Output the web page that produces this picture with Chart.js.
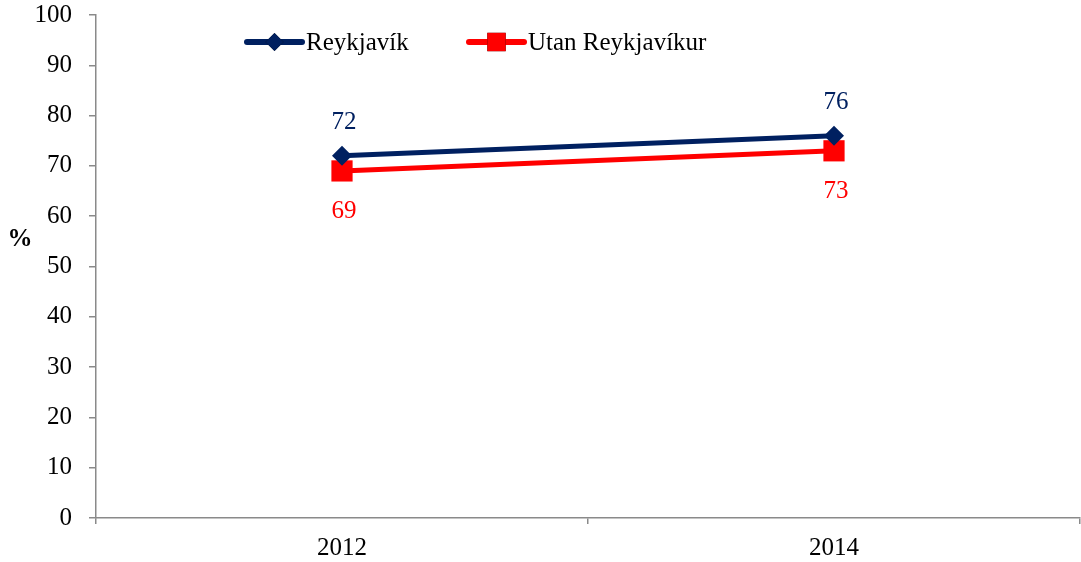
<!DOCTYPE html>
<html>
<head>
<meta charset="utf-8">
<script src="https://cdn.jsdelivr.net/npm/chart.js@4/dist/chart.umd.min.js"></script>
<style>
  html, body { margin: 0; padding: 0; background: #fff; }
  #wrap { width: 1081px; height: 562px; }
</style>
</head>
<body>
<div id="wrap"><canvas id="chart" width="1081" height="562"></canvas></div>
<script>
const years = ['2012', '2014'];
const reykjavik = [72, 76];
const utanReykjavik = [69, 73];
const seriesNames = ['Reykjavík', 'Utan Reykjavíkur'];

const NAVY = '#002060';
const RED = '#ff0000';
const AXIS = '#8a8a8a';
const FONT = '"Liberation Serif", "Times New Roman", serif';
const FS = 25;

// value labels above the navy line, below the red one
const valueLabels = {
    id: 'valueLabels',
    afterDatasetsDraw(chart) {
        const ctx = chart.ctx;
        ctx.save();
        ctx.font = FS + 'px ' + FONT;
        ctx.textAlign = 'center';
        ctx.textBaseline = 'middle';
        chart.data.datasets.forEach((ds, i) => {
            const meta = chart.getDatasetMeta(i);
            meta.data.forEach((pt, j) => {
                ctx.fillStyle = ds.borderColor;
                const dy = i === 0 ? -33 : 41;
                ctx.fillText(String(ds.data[j]), pt.x + 2, pt.y + dy);
            });
        });
        ctx.restore();
    }
};

// line + marker legend, and the unrotated % axis label
const lineLegend = {
    id: 'lineLegend',
    afterDraw(chart) {
        const ctx = chart.ctx;
        ctx.save();
        const starts = [247, 469];
        const y = 42;
        chart.data.datasets.forEach((ds, i) => {
            const x0 = starts[i];
            ctx.strokeStyle = ds.borderColor;
            ctx.lineWidth = 6;
            ctx.lineCap = 'round';
            ctx.beginPath();
            ctx.moveTo(x0, y);
            ctx.lineTo(x0 + 55, y);
            ctx.stroke();
            Chart.helpers.drawPoint(ctx, {
                pointStyle: ds.pointStyle,
                radius: i === 0 ? 9 : 13,
                borderWidth: 0
            }, x0 + 27.5, y);
            ctx.fillStyle = ds.borderColor;
            ctx.fill();
            ctx.fillStyle = '#000';
            ctx.font = FS + 'px ' + FONT;
            ctx.textAlign = 'left';
            ctx.textBaseline = 'middle';
            ctx.fillText(ds.label, x0 + 59, y + 1);
        });
        ctx.font = 'bold ' + FS + 'px ' + FONT;
        ctx.textAlign = 'center';
        ctx.fillText('%', 20, 240);
        ctx.restore();
    }
};

new Chart(document.getElementById('chart'), {
    type: 'line',
    data: {
        labels: years,
        datasets: [{
            label: seriesNames[0],
            data: reykjavik,
            borderColor: NAVY,
            backgroundColor: NAVY,
            borderWidth: 5,
            pointStyle: 'rectRot',
            pointRadius: 10,
            pointBorderWidth: 0
        }, {
            label: seriesNames[1],
            data: utanReykjavik,
            borderColor: RED,
            backgroundColor: RED,
            borderWidth: 5,
            pointStyle: 'rect',
            pointRadius: 15,
            pointBorderWidth: 0
        }]
    },
    options: {
        responsive: false,
        animation: false,
        layout: {
            autoPadding: false,
            padding: { top: 15, right: 1, left: 0, bottom: 0 }
        },
        plugins: {
            legend: { display: false },
            tooltip: { enabled: false }
        },
        scales: {
            x: {
                offset: true,
                grid: {
                    offset: true,
                    drawOnChartArea: false,
                    tickLength: 6,
                    color: AXIS,
                    lineWidth: 1.5
                },
                border: { color: AXIS, width: 1.5 },
                ticks: {
                    padding: 9,
                    color: '#000',
                    font: { family: FONT, size: FS }
                },
                afterFit(axis) {
                    axis.height = 44;
                    axis.paddingLeft = 0;
                    axis.paddingRight = 0;
                }
            },
            y: {
                min: 0,
                max: 100,
                grid: {
                    drawOnChartArea: false,
                    tickLength: 7,
                    color: AXIS,
                    lineWidth: 1.5
                },
                border: { color: AXIS, width: 1.5 },
                ticks: {
                    stepSize: 10,
                    padding: 17,
                    color: '#000',
                    font: { family: FONT, size: FS }
                },
                afterFit(axis) {
                    axis.width = 96;
                    axis.paddingTop = 0;
                    axis.paddingBottom = 0;
                }
            }
        }
    },
    plugins: [valueLabels, lineLegend]
});
</script>
</body>
</html>
